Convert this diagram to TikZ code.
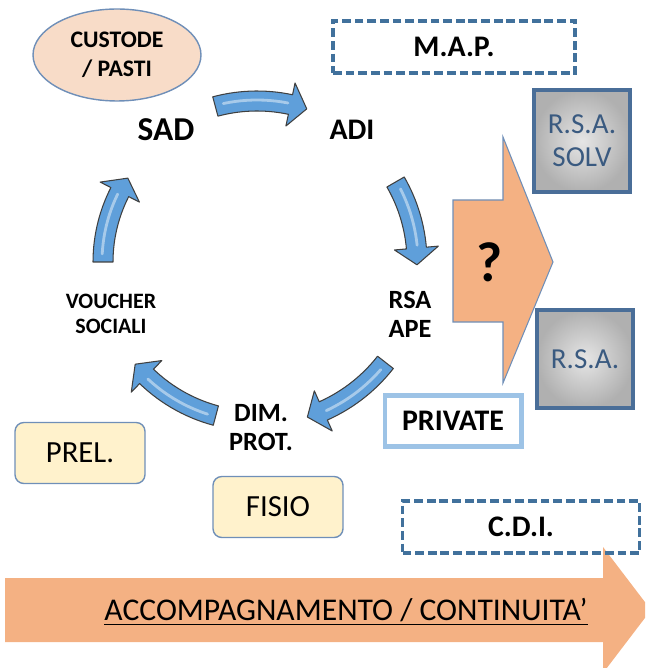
\documentclass[tikz,border=0pt]{standalone}
\usepackage{fontspec}
\setmainfont{Carlito}
\usetikzlibrary{shapes.geometric}

\definecolor{peach}{HTML}{F8DCC8}
\definecolor{orangefill}{HTML}{F4B183}
\definecolor{dashblue}{HTML}{41719C}
\definecolor{rsablue}{HTML}{4A6E98}
\definecolor{rsatext}{HTML}{3A5A80}
\definecolor{privblue}{HTML}{9DC3E6}
\definecolor{creambox}{HTML}{FFF2CC}
\definecolor{edgeblue}{HTML}{6F8FB8}
\definecolor{arrowblue}{HTML}{5F9FDA}

\tikzset{
  cyclearrow/.style={fill=arrowblue, draw=black!75, line width=0.6pt, line join=round},
  lbl/.style={font=\bfseries\fontsize{15}{16.5}\selectfont, align=center},
  dashbox/.style={draw=dashblue, line width=2pt, dash pattern=on 5pt off 2.2pt,
    font=\bfseries\fontsize{17}{19}\selectfont, minimum height=1.05cm},
  rsabox/.style={draw=rsablue, line width=2.8pt, inner color=gray!20, outer color=gray!62,
    text=rsatext, font=\fontsize{16.5}{19}\selectfont, align=center},
  creamnode/.style={draw=edgeblue, line width=0.8pt, fill=creambox, rounded corners=5pt,
    minimum width=2.6cm, minimum height=1.22cm, font=\fontsize{17.5}{19}\selectfont}
}

\begin{document}
\begin{tikzpicture}[x=0.02cm, y=-0.02cm]
  \clip (0,0) rectangle (645,668);

  % bottom band
  \fill[orangefill] (5,578) -- (603,578) -- (603,547) -- (651,610) -- (603,673) -- (603,642) -- (5,642) -- cycle;
  \node (accomp) at (346,612) {\fontsize{18}{20}\selectfont\underline{ACCOMPAGNAMENTO / CONTINUITA’}};

  % big arrow with the question mark
  \draw[fill=orangefill, draw=edgeblue, line width=0.6pt] (453,200) -- (503,200) -- (503,137) -- (553,262) -- (503,383) -- (503,322) -- (453,322) -- cycle;
  \node[font=\bfseries\fontsize{32}{34}\selectfont] (quest) at (490,262) {?};

  % ring of arrows
  \begin{scope}[shift={(257,262)}]
  \foreach \a/\b/\r in {-105/-72/161, -30/1/160, 38/72/163, 105/140/159, 180/213/154}{
    \pgfmathsetmacro\h{\b-6}
    \draw[cyclearrow] plot[domain=\a:\h, samples=16] ({\x}:{\r+10}) -- (\h:{\r+22}) -- (\b:\r)
      -- (\h:{\r-22}) -- plot[domain=\h:\a, samples=16] ({\x}:{\r-10}) -- cycle;
    \draw[white, opacity=0.45, line width=1.6pt, line cap=round] plot[domain=\a+3:\h-1, samples=12] ({\x}:{\r+1});
  }
  \end{scope}

  \node[ellipse, draw=edgeblue, line width=0.8pt, fill=peach, minimum width=3.36cm, minimum height=1.84cm,
    inner sep=0pt, lbl, font=\bfseries\fontsize{13.5}{16.5}\selectfont] (custode) at (117,55) {CUSTODE\\/ PASTI};

  \node[lbl, font=\bfseries\fontsize{19}{21}\selectfont] (sad) at (166,130) {SAD};
  \node[lbl, font=\bfseries\fontsize{17}{19}\selectfont] (adi) at (352,130) {ADI};
  \node[lbl] (rsaape) at (410,314) {RSA\\APE};
  \node[lbl] (dimprot) at (261,428) {DIM.\\PROT.};
  \node[lbl, font=\bfseries\fontsize{12.5}{14}\selectfont] (voucher) at (111,314) {VOUCHER\\SOCIALI};

  \node[dashbox, minimum width=4.84cm] (map) at (454,47) {M.A.P.};
  \node[dashbox, minimum width=4.74cm] (cdi) at (521,527) {C.D.I.};

  \node[rsabox, minimum width=1.92cm, minimum height=2.04cm] (rsasolv) at (582,141) {R.S.A.\\SOLV};
  \node[rsabox, minimum width=1.92cm, minimum height=1.96cm] (rsa) at (585,359) {R.S.A.};

  \node[draw=privblue, line width=2.3pt, fill=white, minimum width=2.74cm, minimum height=1.02cm,
    font=\bfseries\fontsize{17}{19}\selectfont] (private) at (453,421) {PRIVATE};

  \node[creamnode] (prel) at (80,453) {PREL.};
  \node[creamnode] (fisio) at (278,507) {FISIO};
\end{tikzpicture}
\end{document}
